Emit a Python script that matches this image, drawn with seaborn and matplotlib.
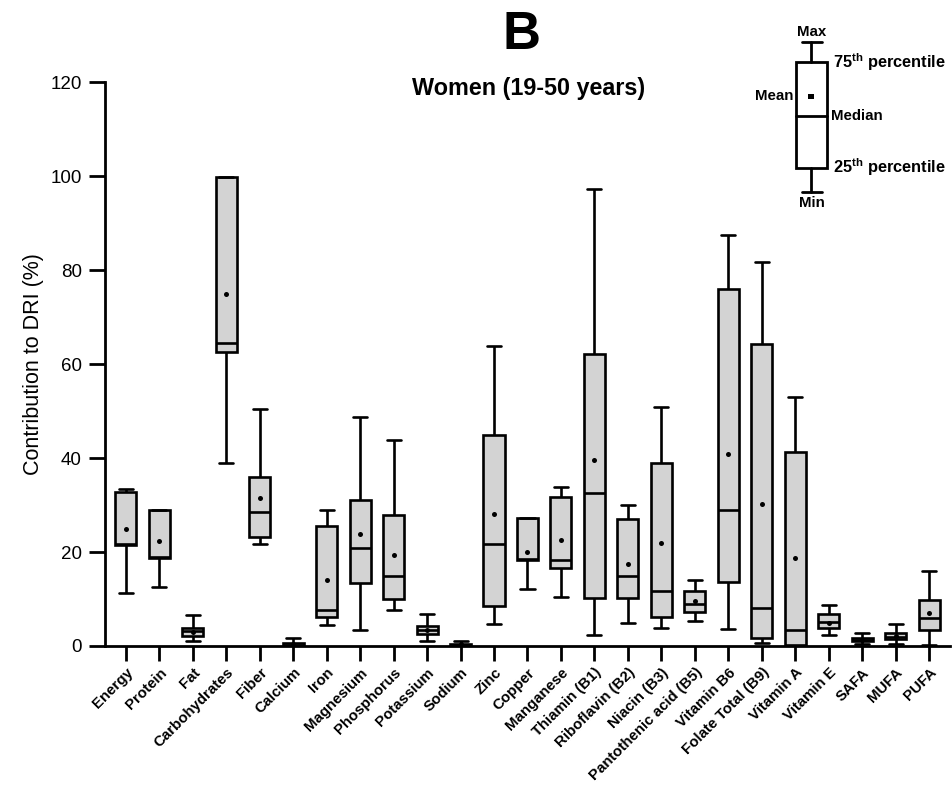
import numpy as np
import pandas as pd
import matplotlib
matplotlib.use("Agg")
import matplotlib.pyplot as plt
import seaborn as sns
from matplotlib.lines import Line2D
from matplotlib.patches import Rectangle

nutrients = ['Energy', 'Protein', 'Fat', 'Carbohydrates', 'Fiber', 'Calcium', 'Iron',
             'Magnesium', 'Phosphorus', 'Potassium', 'Sodium', 'Zinc', 'Copper',
             'Manganese', 'Thiamin (B1)', 'Riboflavin (B2)', 'Niacin (B3)',
             'Pantothenic acid (B5)', 'Vitamin B6', 'Folate Total (B9)', 'Vitamin A',
             'Vitamin E', 'SAFA', 'MUFA', 'PUFA']
mins = [11.2, 12.5, 1.0, 39.0, 21.8, 0.0, 4.5, 3.3, 7.7, 1.0, 0.0, 4.7, 12.2,
        10.4, 2.4, 4.9, 3.9, 5.3, 3.7, 0.7, 0.0, 2.4, 0.4, 0.5, 0.2]
q1s = [21.5, 18.7, 2.2, 62.6, 23.2, 0.1, 6.1, 13.3, 10.0, 2.6, 0.1, 8.6, 18.2,
       16.7, 10.2, 10.2, 6.1, 7.3, 13.6, 1.6, 0.2, 3.9, 1.0, 1.4, 3.5]
medians = [21.8, 19.0, 3.2, 64.4, 28.5, 0.3, 7.6, 20.8, 14.8, 3.5, 0.3, 21.6, 18.5,
           18.3, 32.6, 14.9, 11.6, 9.0, 28.9, 8.0, 3.4, 5.0, 1.2, 2.0, 5.9]
q3s = [32.8, 28.9, 3.8, 99.7, 35.9, 0.6, 25.5, 31.0, 27.9, 4.2, 0.5, 44.8, 27.2,
       31.6, 62.1, 27.1, 38.9, 11.6, 76.0, 64.2, 41.2, 6.9, 1.6, 2.7, 9.8]
maxs = [33.4, 28.9, 6.7, 99.7, 50.5, 1.6, 28.9, 48.7, 43.8, 6.8, 1.0, 63.9, 27.2,
        33.9, 97.3, 30.0, 50.9, 14.1, 87.4, 81.7, 52.9, 8.8, 2.7, 4.6, 15.9]
means = [24.9, 22.4, 3.0, 75.0, 31.4, 0.4, 14.0, 23.8, 19.4, 3.5, 0.4, 28.1, 20.0,
         22.6, 39.5, 17.4, 22.0, 9.6, 40.9, 30.2, 18.7, 4.9, 1.3, 2.1, 7.1]
y_ticks = [0, 20, 40, 60, 80, 100, 120]

sns.set_style("ticks")
plt.rcParams['font.family'] = ['Liberation Sans', 'DejaVu Sans']
plt.rcParams['mathtext.fontset'] = 'custom'
plt.rcParams['mathtext.rm'] = 'Liberation Sans'
plt.rcParams['mathtext.bf'] = 'Liberation Sans:bold'
for k in ('text.color', 'axes.labelcolor', 'xtick.color', 'ytick.color', 'axes.edgecolor'):
    plt.rcParams[k] = 'black'

rows = []
for n, a, b, c, d, e in zip(nutrients, mins, q1s, medians, q3s, maxs):
    for v in (a, b, c, d, e):
        rows.append({'Nutrient': n, 'Value': v})
df = pd.DataFrame(rows)
mdf = pd.DataFrame({'Nutrient': nutrients, 'Mean': means})

fig = plt.figure(figsize=(9.53, 7.94), dpi=100)
ax = fig.add_axes([0.110, 0.1864, 0.887, 0.7103])

sns.boxplot(data=df, x='Nutrient', y='Value', order=nutrients, whis=(0, 100),
            width=0.63, color='#d3d3d3', linecolor='black', linewidth=1.9,
            fliersize=0, saturation=1, capwidths=0.42, ax=ax)
sns.stripplot(data=mdf, x='Nutrient', y='Mean', order=nutrients, jitter=False,
              color='black', size=3.6, ax=ax, zorder=5)

sns.despine(ax=ax)
ax.set_xlim(-0.63, 24.63)
ax.set_ylim(0, 120)
ax.set_yticks(y_ticks)
ax.set_yticklabels([str(t) for t in y_ticks], fontsize=13.5)
for s in ('left', 'bottom'):
    ax.spines[s].set_linewidth(2.0)
    ax.spines[s].set_color('black')
ax.tick_params(axis='y', length=11.5, width=2, pad=5, colors='black')
ax.tick_params(axis='x', length=11, width=2, pad=3, colors='black')
ax.set_xticks(range(len(nutrients)))
ax.set_xticklabels(nutrients, rotation=45, ha='right', rotation_mode='anchor',
                   fontsize=10.8, fontweight='bold')
ax.set_xlabel('')
ax.set_ylabel('Contribution to DRI (%)', fontsize=15.5, labelpad=5)

W, H = 953.0, 794.0
def fx(x):
    return x / W
def fy(y):
    return 1 - y / H

fig.text(fx(529), fy(88), 'Women (19-50 years)', ha='center', va='center',
         fontsize=16.8, fontweight='bold')
fig.text(fx(522), fy(49), 'B', ha='center', va='baseline', fontsize=38, fontweight='bold')

# schematic legend (figure pixel coordinates)
lw = 2.0
fig.add_artist(Rectangle((fx(796), fy(168)), (827 - 796) / W, (168 - 62) / H,
                         facecolor='white', edgecolor='black', linewidth=lw,
                         transform=fig.transFigure))
fig.add_artist(Line2D([fx(796), fx(827)], [fy(116), fy(116)], color='black', lw=lw))
fig.add_artist(Line2D([fx(811.5), fx(811.5)], [fy(42), fy(62)], color='black', lw=lw))
fig.add_artist(Line2D([fx(811.5), fx(811.5)], [fy(168), fy(192)], color='black', lw=lw))
fig.add_artist(Line2D([fx(802), fx(822)], [fy(42), fy(42)], color='black', lw=lw))
fig.add_artist(Line2D([fx(802), fx(822)], [fy(192), fy(192)], color='black', lw=lw))
fig.add_artist(Rectangle((fx(808.5), fy(98.5)), 6 / W, 5 / H, facecolor='black',
                         edgecolor='none', transform=fig.transFigure))
lf = dict(fontsize=10.8, fontweight='bold')
fig.text(fx(811.5), fy(32), 'Max', ha='center', va='center', **lf)
fig.text(fx(811.5), fy(203), 'Min', ha='center', va='center', **lf)
fig.text(fx(793), fy(96), 'Mean', ha='right', va='center', **lf)
fig.text(fx(831), fy(116), 'Median', ha='left', va='center', **lf)
pf = dict(fontsize=11.8, fontweight='bold')
fig.text(fx(833), fy(62), r'75$^{\mathbf{th}}$ percentile', ha='left', va='center', **pf)
fig.text(fx(833), fy(167), r'25$^{\mathbf{th}}$ percentile', ha='left', va='center', **pf)

fig.savefig('out.png', dpi=100)
